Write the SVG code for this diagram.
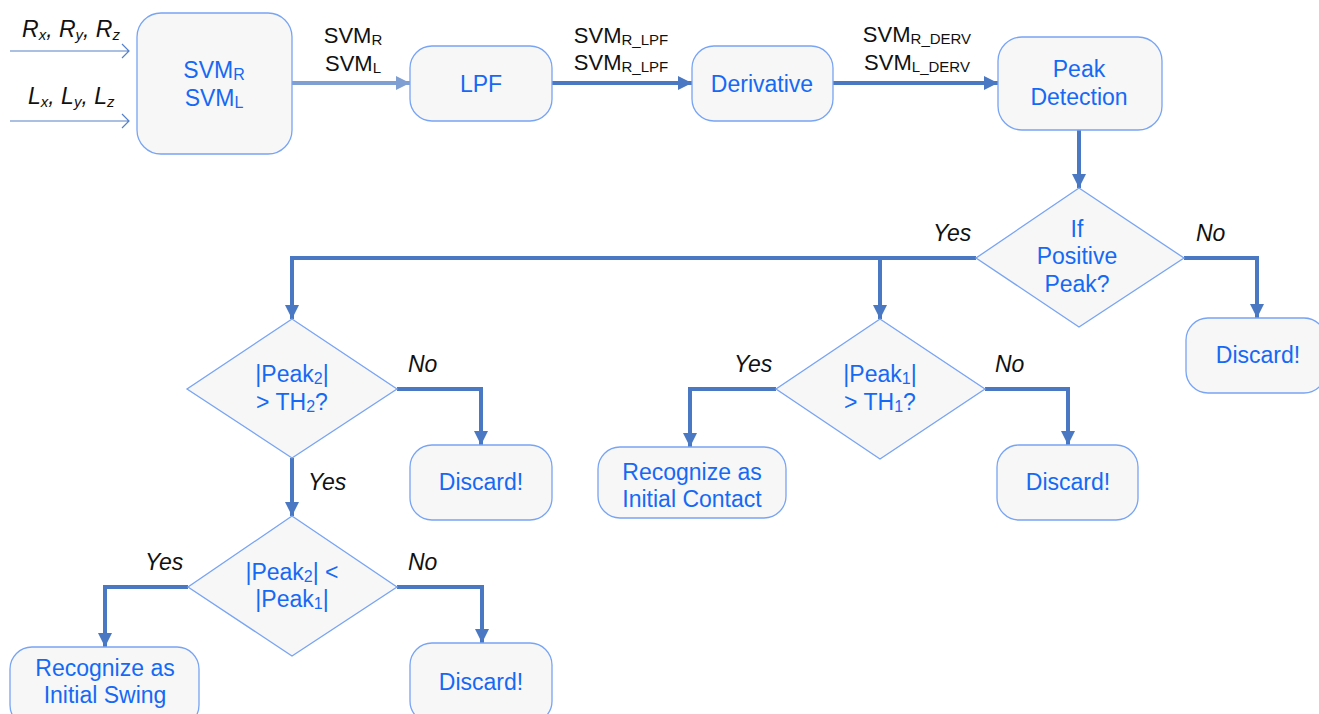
<svg xmlns="http://www.w3.org/2000/svg" width="1319" height="714" viewBox="0 0 1319 714">
<defs>
<style>
.box{fill:#f7f7f7;stroke:#78a4f4;stroke-width:1.3}
.t{font-family:"Liberation Sans",Arial,sans-serif;font-size:23px;fill:#1569f5;text-anchor:middle}
.k{font-family:"Liberation Sans",Arial,sans-serif;font-size:22px;fill:#111}
.i{font-style:italic;font-size:23px}
.c{fill:none;stroke:#4a78c2;stroke-width:4}
.thin{fill:none;stroke:#5582c8;stroke-width:1.2}
</style>
<marker id="ah" markerUnits="userSpaceOnUse" markerWidth="14" markerHeight="14" refX="14" refY="7" orient="auto">
<path d="M0,0 L14,7 L0,14 z" fill="#4a78c2"/>
</marker>
<marker id="ahl" markerUnits="userSpaceOnUse" markerWidth="14" markerHeight="14" refX="14" refY="7" orient="auto">
<path d="M0,0 L14,7 L0,14 z" fill="#7f9fd2"/>
</marker>
</defs>
<rect width="1319" height="714" fill="#fff"/>

<g id="connectors">
<path class="thin" d="M10,51 H129 M122,44 L129,51 L122,58"/>
<path class="thin" d="M10,121 H129 M122,114 L129,121 L122,128"/>
<path class="c" style="stroke:#7f9fd2" d="M292,83 H410" marker-end="url(#ahl)"/>
<path class="c" d="M552,83 H692" marker-end="url(#ah)"/>
<path class="c" d="M833,83 H998" marker-end="url(#ah)"/>
<path class="c" d="M1079,130 V188" marker-end="url(#ah)"/>
<path class="c" d="M976,258 H292 V319" marker-end="url(#ah)"/>
<path class="c" d="M880,258 V319" marker-end="url(#ah)"/>
<path class="c" d="M1184,258 H1257 V318" marker-end="url(#ah)"/>
<path class="c" d="M397,389 H481 V445" marker-end="url(#ah)"/>
<path class="c" d="M292,458 V516" marker-end="url(#ah)"/>
<path class="c" d="M776,389 H690 V447" marker-end="url(#ah)"/>
<path class="c" d="M985,389 H1068 V445" marker-end="url(#ah)"/>
<path class="c" d="M188,587 H105 V647" marker-end="url(#ah)"/>
<path class="c" d="M397,587 H482 V643" marker-end="url(#ah)"/>
</g>

<g id="labels">
<text class="k i" x="22" y="37">R<tspan font-size="15" dy="3">x</tspan><tspan dy="-3">, R</tspan><tspan font-size="15" dy="3">y</tspan><tspan dy="-3">, R</tspan><tspan font-size="15" dy="3">z</tspan></text>
<text class="k i" x="28" y="104">L<tspan font-size="15" dy="3">x</tspan><tspan dy="-3">, L</tspan><tspan font-size="15" dy="3">y</tspan><tspan dy="-3">, L</tspan><tspan font-size="15" dy="3">z</tspan></text>
<text class="k" x="353" y="43" text-anchor="middle">SVM<tspan font-size="15" dy="2">R</tspan></text>
<text class="k" x="353" y="71" text-anchor="middle">SVM<tspan font-size="15" dy="2">L</tspan></text>
<text class="k" x="621" y="43" text-anchor="middle">SVM<tspan font-size="15" dy="2">R_LPF</tspan></text>
<text class="k" x="621" y="70" text-anchor="middle">SVM<tspan font-size="15" dy="2">R_LPF</tspan></text>
<text class="k" x="917" y="42" text-anchor="middle">SVM<tspan font-size="15" dy="2">R_DERV</tspan></text>
<text class="k" x="917" y="70" text-anchor="middle">SVM<tspan font-size="15" dy="2">L_DERV</tspan></text>
<text class="k i" x="933" y="241">Yes</text>
<text class="k i" x="1196" y="241">No</text>
<text class="k i" x="408" y="372">No</text>
<text class="k i" x="308" y="490">Yes</text>
<text class="k i" x="734" y="372">Yes</text>
<text class="k i" x="995" y="372">No</text>
<text class="k i" x="145" y="570">Yes</text>
<text class="k i" x="408" y="570">No</text>
</g>

<g id="svm">
<rect class="box" x="137" y="13" width="155" height="141" rx="24"/>
<text class="t" x="214" y="78">SVM<tspan font-size="16" dy="2">R</tspan></text>
<text class="t" x="214" y="106">SVM<tspan font-size="16" dy="2">L</tspan></text>
</g>
<g id="lpf">
<rect class="box" x="410" y="46" width="142" height="75" rx="22"/>
<text class="t" x="481" y="92">LPF</text>
</g>
<g id="derivative">
<rect class="box" x="692" y="46" width="141" height="75" rx="22"/>
<text class="t" x="762" y="92">Derivative</text>
</g>
<g id="peak-detection">
<rect class="box" x="998" y="37" width="164" height="93" rx="24"/>
<text class="t" x="1079" y="77">Peak</text>
<text class="t" x="1079" y="105">Detection</text>
</g>
<g id="if-positive">
<polygon class="box" points="1079,188 1184,258 1079,327 976,258"/>
<text class="t" x="1077" y="237">If</text>
<text class="t" x="1077" y="264">Positive</text>
<text class="t" x="1077" y="292">Peak?</text>
</g>
<g id="discard-top">
<rect class="box" x="1186" y="318" width="140" height="75" rx="22"/>
<text class="t" x="1258" y="363">Discard!</text>
</g>
<g id="peak2-th2">
<polygon class="box" points="292,319 397,389 292,458 187,389"/>
<text class="t" x="292" y="382">|Peak<tspan font-size="16" dy="2">2</tspan><tspan dy="-2">|</tspan></text>
<text class="t" x="292" y="410">&gt; TH<tspan font-size="16" dy="2">2</tspan><tspan dy="-2">?</tspan></text>
</g>
<g id="discard-1">
<rect class="box" x="410" y="445" width="142" height="75" rx="22"/>
<text class="t" x="481" y="490">Discard!</text>
</g>
<g id="peak1-th1">
<polygon class="box" points="880,319 985,389 880,459 776,389"/>
<text class="t" x="880" y="382">|Peak<tspan font-size="16" dy="2">1</tspan><tspan dy="-2">|</tspan></text>
<text class="t" x="880" y="410">&gt; TH<tspan font-size="16" dy="2">1</tspan><tspan dy="-2">?</tspan></text>
</g>
<g id="initial-contact">
<rect class="box" x="598" y="447" width="188" height="71" rx="22"/>
<text class="t" x="692" y="480">Recognize as</text>
<text class="t" x="692" y="507">Initial Contact</text>
</g>
<g id="discard-2">
<rect class="box" x="997" y="445" width="141" height="75" rx="22"/>
<text class="t" x="1068" y="490">Discard!</text>
</g>
<g id="peak2-lt-peak1">
<polygon class="box" points="292,516 397,587 292,656 188,587"/>
<text class="t" x="292" y="580">|Peak<tspan font-size="16" dy="2">2</tspan><tspan dy="-2">| &lt;</tspan></text>
<text class="t" x="292" y="607">|Peak<tspan font-size="16" dy="2">1</tspan><tspan dy="-2">|</tspan></text>
</g>
<g id="initial-swing">
<rect class="box" x="10" y="647" width="189" height="80" rx="22"/>
<text class="t" x="105" y="676">Recognize as</text>
<text class="t" x="105" y="703">Initial Swing</text>
</g>
<g id="discard-3">
<rect class="box" x="410" y="643" width="142" height="80" rx="22"/>
<text class="t" x="481" y="690">Discard!</text>
</g>
</svg>
